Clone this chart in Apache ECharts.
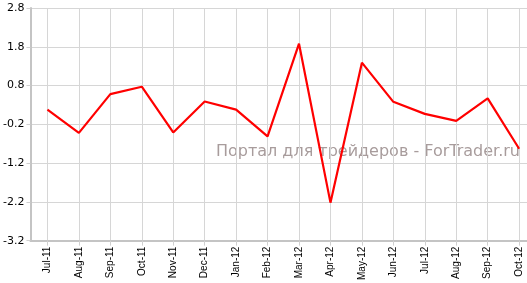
<!DOCTYPE html>
<html><head><meta charset="utf-8">
<script src="https://cdn.jsdelivr.net/npm/echarts@6/dist/echarts.min.js"></script>
<style>html,body{margin:0;padding:0;background:#fff}#c{width:527px;height:283px}</style>
</head><body><div id="c"></div>
<script>
const categories = ["Jul-11","Aug-11","Sep-11","Oct-11","Nov-11","Dec-11","Jan-12","Feb-12","Mar-12","Apr-12","May-12","Jun-12","Jul-12","Aug-12","Sep-12","Oct-12"];
const values = [0.18,-0.42,0.58,0.77,-0.41,0.39,0.18,-0.51,1.88,-2.22,1.39,0.38,0.07,-0.11,0.47,-0.83];
const watermark = "Портал для трейдеров - ForTrader.ru";

const idx = categories.map((c,i)=>i);
const chart = echarts.init(document.getElementById('c'));
chart.setOption({
  animation:false,
  grid:{left:27,right:0,top:8,bottom:41},
  xAxis:{type:'value',min:-0.54,max:15.25,
    axisLine:{show:true,onZero:false,lineStyle:{color:'#c4c4c4',width:2}},
    axisTick:{show:true,customValues:idx,length:5,lineStyle:{color:'#d0d0d0'}},
    axisLabel:{customValues:idx,rotate:90,fontFamily:'Liberation Sans, Arial',fontSize:10,color:'#000',margin:6,
      formatter:v=>categories[Math.round(v)]||''},
    splitLine:{show:true,lineStyle:{color:'#d6d6d6',width:1}}
  },
  yAxis:{type:'value',min:-3.2,max:2.8,interval:1,
    axisLine:{show:true,onZero:false,lineStyle:{color:'#c4c4c4',width:2}},
    axisTick:{show:true,length:4,lineStyle:{color:'#d0d0d0'}},
    axisLabel:{fontFamily:'DejaVu Sans',fontSize:11,color:'#000',margin:6,formatter:v=>v.toFixed(1)},
    splitLine:{show:true,lineStyle:{color:'#d6d6d6',width:1}}
  },
  graphic:[{type:'text',right:7,top:144,z:0,silent:true,
    style:{text:watermark,fill:'#a89c9c',font:'16px "DejaVu Sans"'}}],
  series:[{type:'line',data:idx.map(i=>[i,values[i]]),showSymbol:false,z:5,
    lineStyle:{color:'#ff0000',width:2.2}}]
});
</script></body></html>
